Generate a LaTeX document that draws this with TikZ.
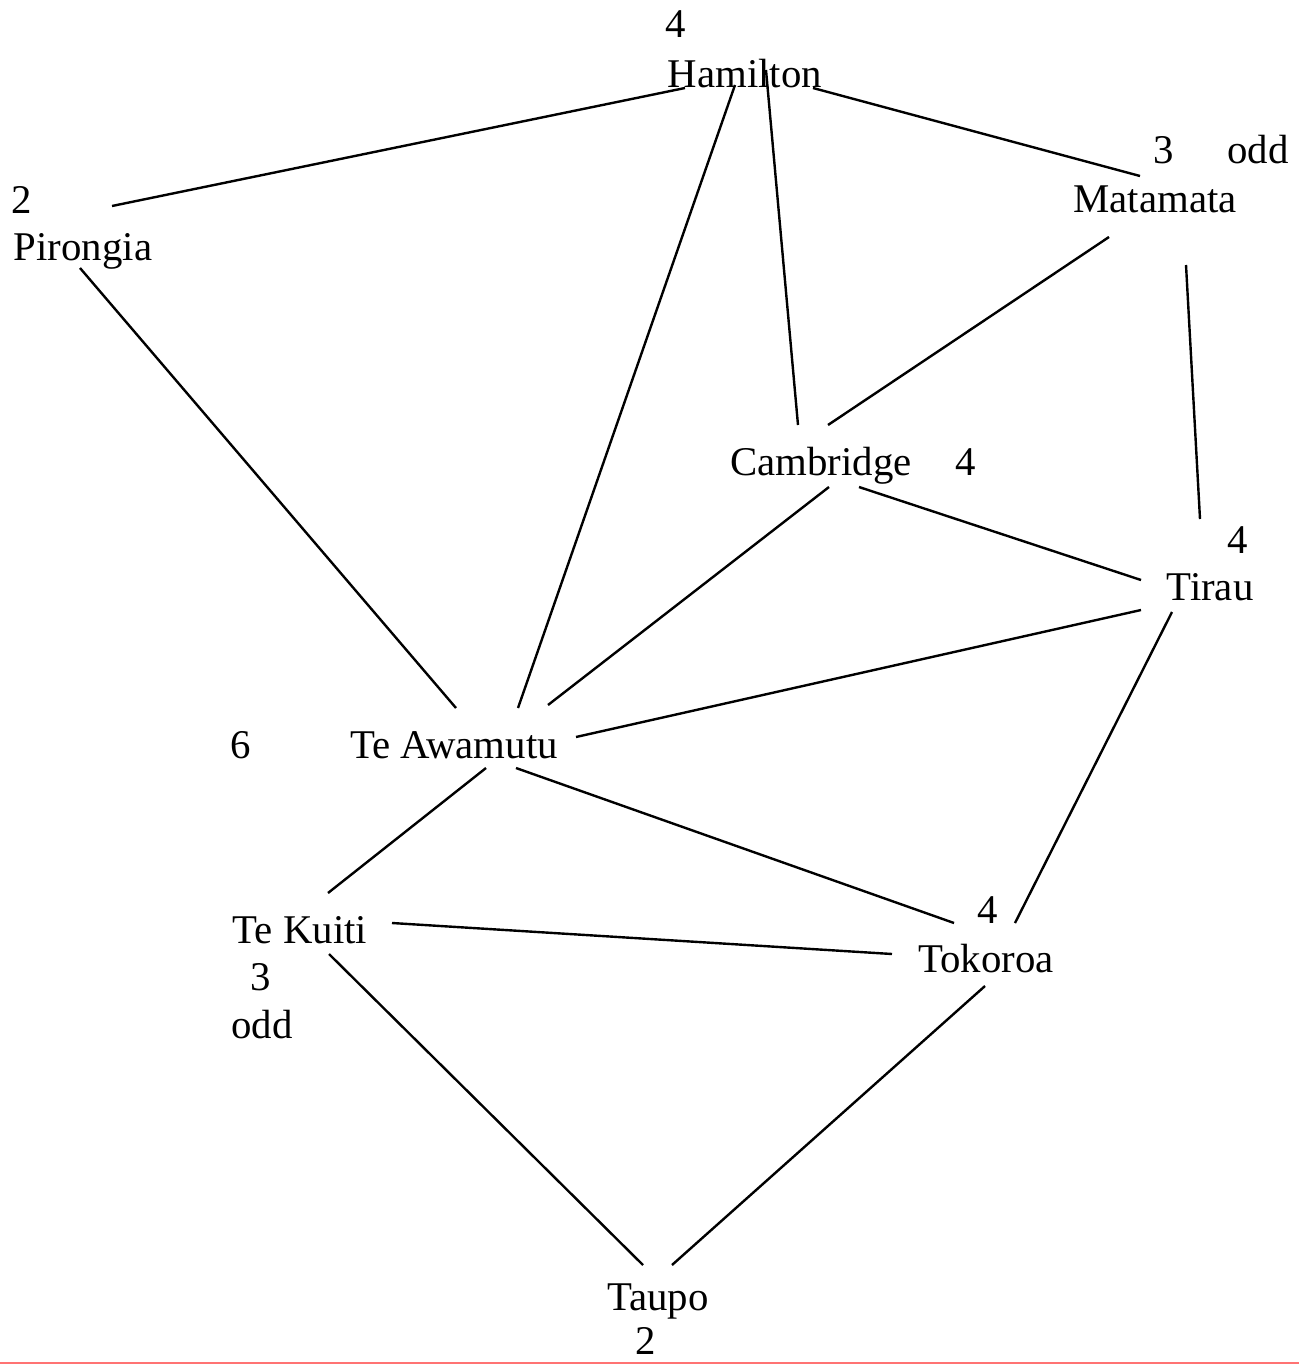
\documentclass[tikz,border=0pt]{standalone}
\usepackage{fontspec}
\setmainfont{Liberation Serif}
\usepackage{tikz}

\begin{document}
\begin{tikzpicture}[x=0.5pt,y=-0.5pt]
            \tikzstyle{every node}=[font=\fontsize{20.4}{24}\selectfont, anchor=base, inner sep=0pt]
            \tikzstyle{road}=[line width=1.2pt, black]
            \useasboundingbox (0,0) rectangle (1299,1365);
            \fill[white] (0,0) rectangle (1299,1365);
            % towns and degrees
            \node (hamdeg) at (676,38) {4};
            \node (ham) at (745,87) {Hamilton};
            \node (pirdeg) at (22,213) {2};
            \node (pir) at (83,260) {Pirongia};
            \node (matdeg) at (1164,163) {3};
            \node (matodd) at (1258,163) {odd};
            \node (mat) at (1155,212) {Matamata};
            \node (cam) at (821,475) {Cambridge};
            \node (camdeg) at (966,475) {4};
            \node (tirdeg) at (1238,553) {4};
            \node (tir) at (1210,600) {Tirau};
            \node (awadeg) at (241,758) {6};
            \node (awa) at (454,758) {Te Awamutu};
            \node (kui) at (300,943) {Te Kuiti};
            \node (kuideg) at (261,990) {3};
            \node (kuiodd) at (262,1038) {odd};
            \node (tokdeg) at (988,923) {4};
            \node (tok) at (986,972) {Tokoroa};
            \node (tau) at (658,1310) {Taupo};
            \node (taudeg) at (646,1354) {2};
            % roads
            \draw[road] ([shift={(-60,1)}]ham.base) -- ([shift={(29,-54)}]pir.base);
            \draw[road] ([shift={(-10,-2)}]ham.base) -- ([shift={(64,-50)}]awa.base);
            \draw[road] ([shift={(21,-17)}]ham.base) -- ([shift={(-23,-50)}]cam.base);
            \draw[road] ([shift={(68,1)}]ham.base) -- ([shift={(-15,-36)}]mat.base);
            \draw[road] ([shift={(-3,8)}]pir.base) -- ([shift={(2,-50)}]awa.base);
            \draw[road] ([shift={(-46,25)}]mat.base) -- ([shift={(7,-50)}]cam.base);
            \draw[road] ([shift={(31,53)}]mat.base) -- ([shift={(-10,-81)}]tir.base);
            \draw[road] ([shift={(8,12)}]cam.base) -- ([shift={(94,-53)}]awa.base);
            \draw[road] ([shift={(38,12)}]cam.base) -- ([shift={(-69,-20)}]tir.base);
            \draw[road] ([shift={(-69,10)}]tir.base) -- ([shift={(122,-21)}]awa.base);
            \draw[road] ([shift={(-38,12)}]tir.base) -- ([shift={(29,-49)}]tok.base);
            \draw[road] ([shift={(32,10)}]awa.base) -- ([shift={(28,-50)}]kui.base);
            \draw[road] ([shift={(62,10)}]awa.base) -- ([shift={(-32,-49)}]tok.base);
            \draw[road] ([shift={(92,-20)}]kui.base) -- ([shift={(-94,-18)}]tok.base);
            \draw[road] ([shift={(29,11)}]kui.base) -- ([shift={(-15,-45)}]tau.base);
            \draw[road] ([shift={(-1,14)}]tok.base) -- ([shift={(14,-45)}]tau.base);
            % page edge
            \draw[red!55, line width=1pt] (0,1363) -- (1299,1363);
        \end{tikzpicture}
\end{document}
